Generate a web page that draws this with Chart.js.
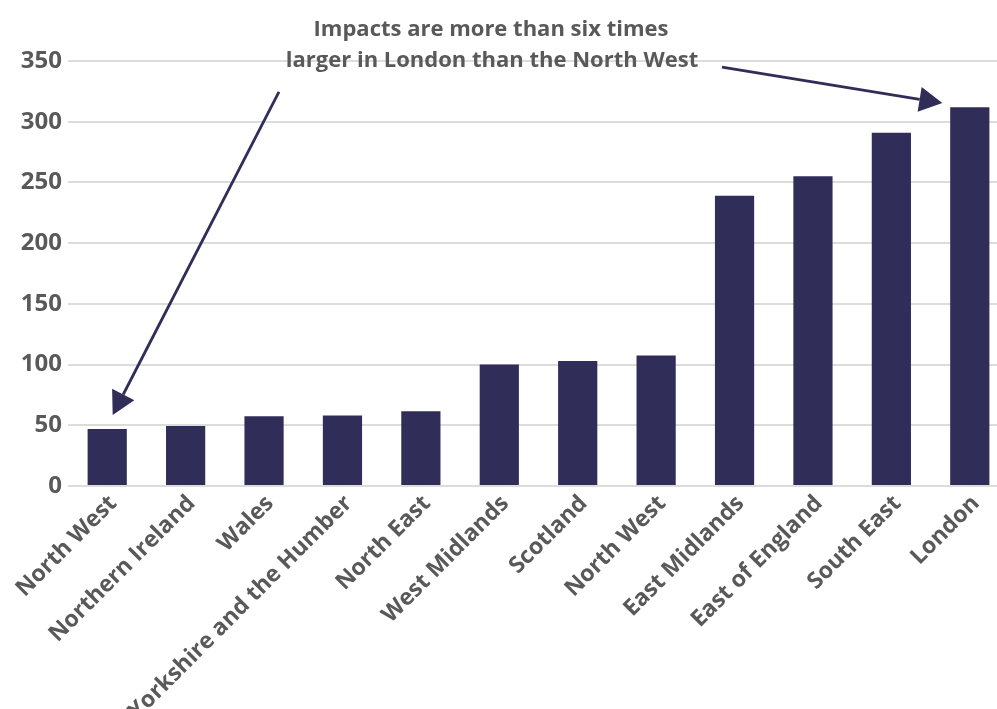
<!DOCTYPE html>
<html>
<head>
<meta charset="utf-8">
<script src="https://cdn.jsdelivr.net/npm/chart.js@4"></script>
<style>
  html, body { margin: 0; padding: 0; background: #ffffff; overflow: hidden; }
  #wrap { position: relative; width: 1012px; height: 709px; }
</style>
</head>
<body>
<div id="wrap"><canvas id="chart"></canvas></div>
<script>
// Regions, ordered by size of impact
const regions = [
  'North West', 'Northern Ireland', 'Wales', 'Yorkshire and the Humber',
  'North East', 'West Midlands', 'Scotland', 'North West',
  'East Midlands', 'East of England', 'South East', 'London'
];
const impacts = [47, 49.5, 57.5, 58, 61.5, 100, 103, 107.5, 239, 255, 291, 312];
const yTicks = [0, 50, 100, 150, 200, 250, 300, 350];

const noteLines = [
  'Impacts are more than six times',
  'larger in London than the North West'
];

const NAVY = '#302d59';
const GREY_TEXT = '#595959';
const FONT = '"Open Sans", Lato, sans-serif';

// Arrows placed in data space: [category index, value]
const arrows = [
  { from: [2.19, 324.5], to: [0.07, 58.5] },
  { from: [7.84, 345], to: [10.65, 315.4] }
];

const notePlugin = {
  id: 'note',
  afterDatasetsDraw(chart) {
    const { ctx, scales: { x, y } } = chart;
    ctx.save();
    ctx.fillStyle = GREY_TEXT;
    ctx.font = 'bold 22px ' + FONT;
    ctx.textAlign = 'center';
    ctx.textBaseline = 'middle';
    ctx.fillText(noteLines[0], 491, 30);
    ctx.fillText(noteLines[1], 492, 61);

    ctx.strokeStyle = NAVY;
    ctx.fillStyle = NAVY;
    ctx.lineWidth = 2.8;
    const headLen = 23, headHalf = 12.5;
    arrows.forEach(a => {
      const x0 = x.getPixelForValue(a.from[0]), y0 = y.getPixelForValue(a.from[1]);
      const x1 = x.getPixelForValue(a.to[0]), y1 = y.getPixelForValue(a.to[1]);
      const ang = Math.atan2(y1 - y0, x1 - x0);
      const bx = x1 - headLen * Math.cos(ang), by = y1 - headLen * Math.sin(ang);
      ctx.beginPath();
      ctx.moveTo(x0, y0);
      ctx.lineTo(bx, by);
      ctx.stroke();
      ctx.beginPath();
      ctx.moveTo(x1, y1);
      ctx.lineTo(bx + headHalf * Math.sin(ang), by - headHalf * Math.cos(ang));
      ctx.lineTo(bx - headHalf * Math.sin(ang), by + headHalf * Math.cos(ang));
      ctx.closePath();
      ctx.fill();
    });
    ctx.restore();
  }
};

new Chart(document.getElementById('chart'), {
  type: 'bar',
  data: {
    labels: regions,
    datasets: [{
      data: impacts,
      backgroundColor: NAVY,
      borderWidth: 0,
      barPercentage: 0.5,
      categoryPercentage: 1.0
    }]
  },
  options: {
    responsive: true,
    maintainAspectRatio: false,
    animation: false,
    layout: { padding: { top: 61, right: 3, left: 0, bottom: 0 } },
    plugins: { legend: { display: false }, tooltip: { enabled: false } },
    scales: {
      x: {
        grid: { display: false, drawTicks: false },
        border: { display: false },
        ticks: {
          color: GREY_TEXT,
          font: { family: FONT, size: 23, weight: 'bold' },
          minRotation: 45,
          maxRotation: 45,
          autoSkip: false,
          padding: 4,
          labelOffset: 6
        },
        afterFit(scale) { scale.height = 223; }
      },
      y: {
        min: 0,
        max: 350,
        afterBuildTicks(scale) { scale.ticks = yTicks.map(v => ({ value: v })); },
        grid: { color: '#dcdcdc', lineWidth: 2, drawTicks: false },
        border: { display: false },
        ticks: {
          color: GREY_TEXT,
          font: { family: FONT, size: 24, weight: 'bold' },
          padding: 6
        },
        afterFit(scale) { scale.width = 68; }
      }
    }
  },
  plugins: [notePlugin]
});
</script>
</body>
</html>
